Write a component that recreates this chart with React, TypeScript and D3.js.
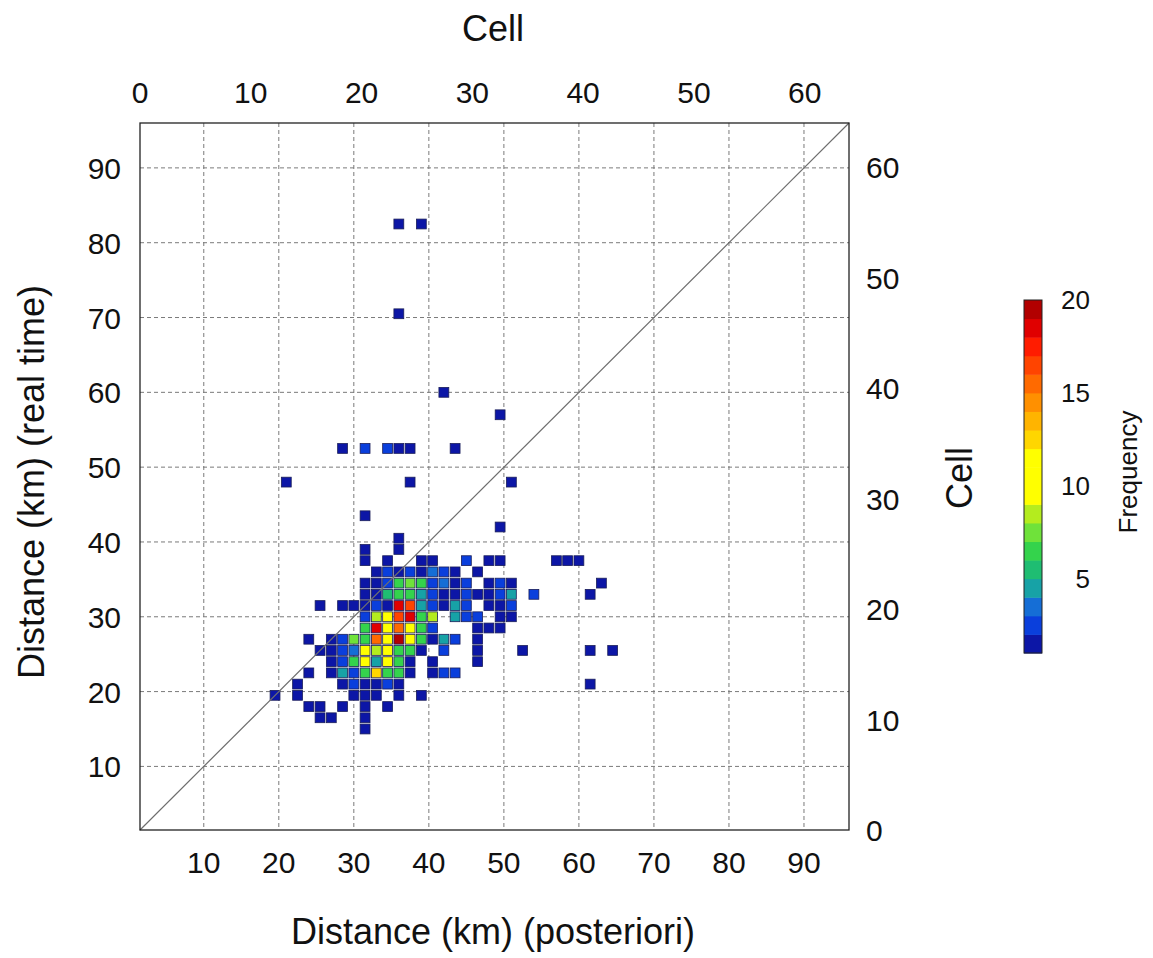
import React from "react";
import * as d3 from "d3";

// ---- data (km, km, frequency) ----
const cells: [number, number, number][] = [
  [36, 82.5, 1], [39, 82.5, 1],
  [36, 70.5, 1],
  [42, 60, 1],
  [49.5, 57, 1],
  [28.5, 52.5, 1], [31.5, 52.5, 2], [34.5, 52.5, 2], [36, 52.5, 1], [37.5, 52.5, 1], [43.5, 52.5, 1],
  [21, 48, 1], [37.5, 48, 1], [51, 48, 1],
  [31.5, 43.5, 1],
  [49.5, 42, 1],
  [36, 40.5, 1],
  [31.5, 39, 1], [36, 39, 1],
  [31.5, 37.5, 1], [34.5, 37.5, 1], [39, 37.5, 1], [40.5, 37.5, 1], [45, 37.5, 2], [48, 37.5, 1], [49.5, 37.5, 1], [57, 37.5, 1], [58.5, 37.5, 1], [60, 37.5, 1],
  [33, 36, 1], [34.5, 36, 2], [36, 36, 1], [37.5, 36, 2], [39, 36, 1], [40.5, 36, 3], [42, 36, 2], [43.5, 36, 1], [46.5, 36, 1],
  [31.5, 34.5, 1], [33, 34.5, 1], [34.5, 34.5, 2], [36, 34.5, 6], [37.5, 34.5, 7], [39, 34.5, 6], [40.5, 34.5, 2], [42, 34.5, 3], [43.5, 34.5, 1], [45, 34.5, 2], [48, 34.5, 1], [49.5, 34.5, 2], [51, 34.5, 1], [63, 34.5, 1],
  [31.5, 33, 1], [33, 33, 1], [34.5, 33, 5], [36, 33, 6], [37.5, 33, 6], [39, 33, 4], [40.5, 33, 2], [42, 33, 1], [43.5, 33, 1], [45, 33, 2], [46.5, 33, 1], [48, 33, 1], [49.5, 33, 2], [51, 33, 4], [54, 33, 2], [61.5, 33, 1],
  [25.5, 31.5, 1], [28.5, 31.5, 1], [30, 31.5, 1], [31.5, 31.5, 1], [33, 31.5, 2], [34.5, 31.5, 1], [36, 31.5, 18], [37.5, 31.5, 16], [39, 31.5, 4], [40.5, 31.5, 2], [42, 31.5, 1], [43.5, 31.5, 4], [45, 31.5, 2], [48, 31.5, 1], [49.5, 31.5, 1], [51, 31.5, 2],
  [31.5, 30, 2], [33, 30, 8], [34.5, 30, 10], [36, 30, 16], [37.5, 30, 18], [39, 30, 6], [40.5, 30, 8], [43.5, 30, 4], [45, 30, 2], [46.5, 30, 2], [49.5, 30, 1], [51, 30, 1],
  [31.5, 28.5, 6], [33, 28.5, 18], [34.5, 28.5, 10], [36, 28.5, 15], [37.5, 28.5, 10], [39, 28.5, 6], [40.5, 28.5, 2], [46.5, 28.5, 1], [48, 28.5, 1], [49.5, 28.5, 1],
  [24, 27, 1], [27, 27, 1], [28.5, 27, 2], [30, 27, 7], [31.5, 27, 6], [33, 27, 15], [34.5, 27, 11], [36, 27, 20], [37.5, 27, 11], [39, 27, 6], [40.5, 27, 1], [42, 27, 4], [43.5, 27, 2], [46.5, 27, 1],
  [25.5, 25.5, 1], [27, 25.5, 1], [28.5, 25.5, 2], [30, 25.5, 3], [31.5, 25.5, 10], [33, 25.5, 8], [34.5, 25.5, 11], [36, 25.5, 6], [37.5, 25.5, 6], [39, 25.5, 1], [42, 25.5, 2], [46.5, 25.5, 1], [52.5, 25.5, 1], [61.5, 25.5, 1], [64.5, 25.5, 1],
  [27, 24, 1], [28.5, 24, 2], [30, 24, 6], [31.5, 24, 10], [33, 24, 4], [34.5, 24, 10], [36, 24, 6], [37.5, 24, 1], [40.5, 24, 1], [46.5, 24, 1],
  [24, 22.5, 1], [27, 22.5, 1], [28.5, 22.5, 4], [30, 22.5, 2], [31.5, 22.5, 6], [33, 22.5, 12], [34.5, 22.5, 6], [36, 22.5, 6], [37.5, 22.5, 1], [40.5, 22.5, 1], [42, 22.5, 2], [43.5, 22.5, 2],
  [22.5, 21, 1], [28.5, 21, 1], [30, 21, 2], [31.5, 21, 1], [33, 21, 1], [34.5, 21, 2], [36, 21, 1], [61.5, 21, 1],
  [19.5, 19.5, 1], [22.5, 19.5, 1], [30, 19.5, 1], [31.5, 19.5, 1], [33, 19.5, 1], [36, 19.5, 1], [39, 19.5, 1],
  [24, 18, 1], [25.5, 18, 1], [28.5, 18, 1], [31.5, 18, 1], [34.5, 18, 1],
  [25.5, 16.5, 1], [27, 16.5, 1], [31.5, 16.5, 1],
  [31.5, 15, 1],
];

const kmTicks = [10, 20, 30, 40, 50, 60, 70, 80, 90];
const cellTicks = [0, 10, 20, 30, 40, 50, 60];
const colorTicks = [5, 10, 15, 20];
const bandColors = [
  "#0c16a6", "#0a3fdc", "#156ed6", "#17a2a6", "#1fbd72", "#34d34c", "#6fe23a", "#b4ec1e",
  "#ffff00", "#ffff00", "#ffff00",
  "#ffd600", "#ffb400", "#ff9000", "#ff6a00", "#ff4400", "#ff1c00", "#e00000", "#b20000",
];
const BIN = 1.5;

const FONT = "'Liberation Sans', Arial, Helvetica, sans-serif";

export default function App() {
  const L = 140, R = 849, T = 123, B = 830;
  const x = d3.scaleLinear().domain([1.5, 96]).range([L, R]);
  const y = d3.scaleLinear().domain([1.5, 96]).range([B, T]);
  const xc = d3.scaleLinear().domain([0, 64]).range([L, R]);
  const yc = d3.scaleLinear().domain([0, 64]).range([B, T]);
  const color = d3.scaleThreshold<number, string>().domain(d3.range(2, 20)).range(bandColors);
  const cw = x(BIN) - x(0);
  const ch = y(0) - y(BIN);
  const sq = cw - 1.4;
  const sqh = ch - 1.4;

  const cbTop = 300, cbBot = 653, cbX = 1024, cbW = 18;
  const cv = d3.scaleLinear().domain([1, 20]).range([cbBot, cbTop]);
  const bands = d3.range(1, 20);

  return (
    <svg width={1153} height={958} style={{ display: "block", position: "absolute", left: 0, top: 0 }} fontFamily={FONT}>
      <rect x={0} y={0} width={1153} height={958} fill="#fff" />
      {/* grid */}
      {kmTicks.map((t) => (
        <g key={"g" + t}>
          <line x1={x(t)} x2={x(t)} y1={T} y2={B} stroke="#7a7a7a" strokeWidth={1} strokeDasharray="4,3" />
          <line x1={L} x2={R} y1={y(t)} y2={y(t)} stroke="#7a7a7a" strokeWidth={1} strokeDasharray="4,3" />
        </g>
      ))}
      {/* cells */}
      {cells.map(([cx, cy, f], i) => (
        <rect key={i} x={x(cx) - sq / 2} y={y(cy) - sqh / 2} width={sq} height={sqh}
          fill={color(f)} stroke="#1b1f5a" strokeWidth={0.8} />
      ))}
      {/* diagonal */}
      <line x1={x(1.5)} y1={y(1.5)} x2={x(96)} y2={y(96)} stroke="#6e6e6e" strokeWidth={1.2} />
      {/* frame */}
      <rect x={L} y={T} width={R - L} height={B - T} fill="none" stroke="#222" strokeWidth={1.3} />
      {/* bottom ticks */}
      {kmTicks.map((t) => (
        <text key={"b" + t} x={x(t)} y={873} fontSize={30} textAnchor="middle" fill="#111">{t}</text>
      ))}
      {/* left ticks */}
      {kmTicks.map((t) => (
        <text key={"l" + t} x={121} y={y(t) + 11} fontSize={30} textAnchor="end" fill="#111">{t}</text>
      ))}
      {/* top ticks (cell) */}
      {cellTicks.map((t) => (
        <text key={"t" + t} x={xc(t)} y={103} fontSize={30} textAnchor="middle" fill="#111">{t}</text>
      ))}
      {/* right ticks (cell) */}
      {cellTicks.map((t) => (
        <text key={"r" + t} x={866} y={yc(t) + 11} fontSize={30} textAnchor="start" fill="#111">{t}</text>
      ))}
      {/* titles */}
      <text x={493} y={41} fontSize={36} textAnchor="middle" fill="#111">Cell</text>
      <text x={493} y={944} fontSize={36} textAnchor="middle" fill="#111">Distance (km) (posteriori)</text>
      <text transform={`translate(44,482) rotate(-90)`} fontSize={36} textAnchor="middle" fill="#111">Distance (km) (real time)</text>
      <text transform={`translate(972,478) rotate(-90)`} fontSize={36} textAnchor="middle" fill="#111">Cell</text>
      {/* colorbar */}
      {bands.map((b) => (
        <rect key={"cb" + b} x={cbX} y={cv(b + 1)} width={cbW} height={cv(b) - cv(b + 1) + 0.5} fill={color(b)} />
      ))}
      <rect x={cbX} y={cbTop} width={cbW} height={cbBot - cbTop} fill="none" stroke="#222" strokeWidth={1} />
      {colorTicks.map((t) => (
        <text key={"c" + t} x={1090} y={cv(t) + 9} fontSize={26} textAnchor="end" fill="#111">{t}</text>
      ))}
      <text transform={`translate(1137,472) rotate(-90)`} fontSize={26} textAnchor="middle" fill="#111">Frequency</text>
    </svg>
  );
}
